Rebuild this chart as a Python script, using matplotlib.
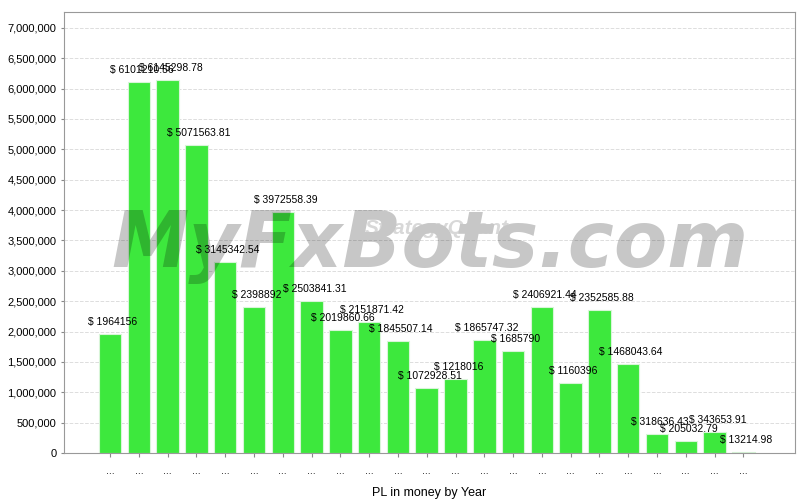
import matplotlib
matplotlib.use('Agg')
import matplotlib.pyplot as plt
from matplotlib.ticker import FuncFormatter

plt.rcParams['font.family'] = ['Liberation Sans', 'DejaVu Sans']

# PL in money by year (years are hidden as "..." on the axis)
years = ['...'] * 23
pl = [1964156, 6101210.56, 6145298.78, 5071563.81, 3145342.54, 2398892,
      3972558.39, 2503841.31, 2019860.66, 2151871.42, 1845507.14, 1072928.51,
      1218016, 1865747.32, 1685790, 2406921.44, 1160396, 2352585.88,
      1468043.64, 318636.43, 205032.79, 343653.91, 13214.98]
labels = ['$ 1964156', '$ 6101210.56', '$ 6145298.78', '$ 5071563.81',
          '$ 3145342.54', '$ 2398892', '$ 3972558.39', '$ 2503841.31',
          '$ 2019860.66', '$ 2151871.42', '$ 1845507.14', '$ 1072928.51',
          '$ 1218016', '$ 1865747.32', '$ 1685790', '$ 2406921.44',
          '$ 1160396', '$ 2352585.88', '$ 1468043.64', '$ 318636.43',
          '$ 205032.79', '$ 343653.91', '$ 13214.98']

fig = plt.figure(figsize=(8, 5), dpi=100)
ax = fig.add_axes([0.08, 0.094, 0.914, 0.882])

x = list(range(len(pl)))
ax.bar(x, pl, width=0.78, color='#3de83d', edgecolor='#d8f5d8', linewidth=0.8, zorder=2)

for xi, v, lab in zip(x, pl, labels):
    ax.annotate(lab, (xi, v), xytext=(2, 5), textcoords='offset points',
                ha='center', va='bottom', fontsize=7.5, color='black', zorder=4)

# watermark
ax.text(0.5, 0.47, 'MyFxBots.com', transform=ax.transAxes, ha='center', va='center',
        fontsize=56, fontweight='bold', style='italic', color='black', alpha=0.22,
        zorder=3, family='DejaVu Sans')
ax.text(0.51, 0.51, 'StrategyQuant', transform=ax.transAxes, ha='center', va='center',
        fontsize=15, fontweight='bold', style='italic', color='#c8c8c8', alpha=0.7,
        zorder=3)

ax.set_xlim(-1.6, 23.8)
ax.set_ylim(0, 7.26e6)
ax.set_xticks(x)
ax.set_xticklabels(years, fontsize=7.5)
ax.set_yticks([i * 500000 for i in range(15)])
ax.yaxis.set_major_formatter(FuncFormatter(lambda v, p: f'{int(v):,}'))
ax.tick_params(axis='y', labelsize=8, length=2, color='#888888')
ax.tick_params(axis='x', length=3, color='#888888', pad=6)
ax.grid(axis='y', linestyle='--', color='#dddddd', linewidth=0.7, zorder=0)
ax.set_axisbelow(True)
for s in ax.spines.values():
    s.set_color('#999999')
    s.set_linewidth(0.8)

ax.set_xlabel('PL in money by Year', fontsize=9, labelpad=8)

fig.savefig('out.png', dpi=100)
